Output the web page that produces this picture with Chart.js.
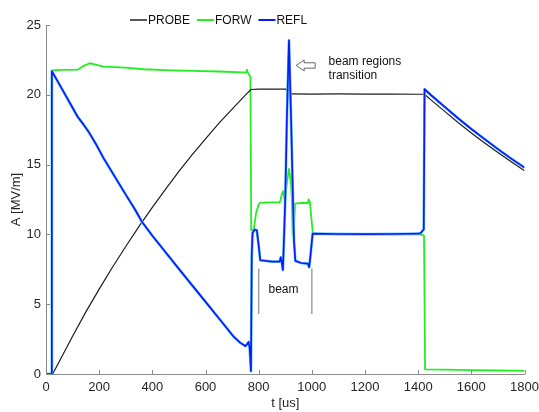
<!DOCTYPE html>
<html>
<head>
<meta charset="utf-8">
<script src="https://cdn.jsdelivr.net/npm/chart.js@4.4.1/dist/chart.umd.min.js"></script>
<style>
  html, body { margin: 0; padding: 0; background: #fff; }
  #wrap { width: 539px; height: 412px; }
</style>
</head>
<body>
<div id="wrap"><canvas id="chart"></canvas></div>
<script>
// PROBE (negro)
const probeT = [0, 25, 50, 100, 150, 200, 250, 300, 350, 400, 450, 500, 550, 600, 650, 700, 750, 771, 800, 850, 902, 910, 918, 925, 1000, 1100, 1200, 1300, 1400, 1424, 1450, 1500, 1550, 1600, 1650, 1700, 1750, 1800];
const probeA = [0, 0, 0.9, 2.7, 4.45, 6.08, 7.65, 9.13, 10.57, 11.93, 13.25, 14.52, 15.72, 16.84, 17.95, 18.98, 19.98, 20.38, 20.4, 20.41, 20.4, 20.25, 20.12, 20.06, 20.05, 20.06, 20.05, 20.05, 20.04, 20.04, 19.6, 18.81, 18.02, 17.27, 16.55, 15.86, 15.2, 14.56];

// FORW (verde)
const forwT = [0, 21, 22, 60, 119, 140, 165, 190, 217, 300, 367, 450, 550, 650, 740, 752, 756, 760, 765, 769, 772, 776, 782, 790, 800, 806, 850, 879, 883, 887, 892, 898, 905, 910, 914, 918, 922, 925, 928, 933, 937, 960, 985, 988, 993, 1000, 1004, 1100, 1200, 1300, 1400, 1418, 1422, 1424, 1426, 1500, 1600, 1700, 1800];
const forwA = [0, 0, 21.75, 21.78, 21.8, 22.05, 22.26, 22.15, 22.02, 21.95, 21.83, 21.77, 21.72, 21.67, 21.6, 21.58, 21.8, 21.55, 21.4, 21.3, 10.3, 10.3, 10.4, 11.5, 12.15, 12.27, 12.3, 12.3, 12.5, 12.9, 13.1, 12.4, 13.5, 14.2, 14.7, 14.2, 13.5, 12.4, 9.9, 10.6, 12.2, 12.25, 12.25, 12.5, 12.3, 10.8, 10.05, 10.0, 10.0, 10.0, 10.0, 9.95, 9.9, 9.9, 0.33, 0.31, 0.28, 0.25, 0.22];

// REFL (azul)
const reflT = [0, 19, 22, 60, 100, 119, 140, 160, 190, 217, 260, 300, 336, 361, 400, 450, 493, 550, 605, 650, 706, 730, 750, 757, 762, 766, 771, 774, 777, 785, 793, 800, 806, 850, 879, 883, 887, 891, 894, 900, 906, 914, 922, 929, 933, 938, 960, 985, 990, 995, 1003, 1100, 1200, 1300, 1400, 1410, 1418, 1421, 1424, 1450, 1500, 1550, 1600, 1650, 1700, 1750, 1800];
const reflA = [0, 0, 21.7, 20.42, 19.07, 18.43, 17.9, 17.36, 16.4, 15.45, 14.1, 12.85, 11.75, 10.9, 9.91, 8.72, 7.69, 6.35, 5.06, 4.0, 2.67, 2.25, 2.0, 2.15, 2.3, 1.9, 0.2, 8.5, 10.1, 10.35, 10.3, 9.2, 8.15, 8.05, 8.05, 8.35, 8.0, 7.45, 9.0, 12.5, 18.2, 23.9, 18.2, 12.5, 9.5, 8.1, 7.95, 7.9, 7.65, 8.5, 10.05, 10.03, 10.02, 10.03, 10.05, 10.1, 10.3, 10.35, 20.4, 19.95, 19.13, 18.32, 17.55, 16.82, 16.11, 15.43, 14.78];

// Ejes
const xTicks = [0, 200, 400, 600, 800, 1000, 1200, 1400, 1600, 1800];
const yTicks = [0, 5, 10, 15, 20, 25];

const toPoints = (t, a) => t.map((v, i) => ({ x: v, y: a[i] }));

const fontFamily = '"Liberation Sans", Arial, sans-serif';
Chart.defaults.font.family = fontFamily;

const axisColor = '#8a8a8a';
const textColor = '#262626';

const extras = {
    id: 'extras',
    afterDraw(chart) {
        const ctx = chart.ctx;
        const x = chart.scales.x;
        const y = chart.scales.y;
        const area = chart.chartArea;
        ctx.save();

        // ticks hacia adentro
        ctx.strokeStyle = axisColor;
        ctx.lineWidth = 1;
        ctx.beginPath();
        xTicks.forEach((v) => {
            const px = Math.round(x.getPixelForValue(v)) + 0.5;
            ctx.moveTo(px, area.bottom);
            ctx.lineTo(px, area.bottom - 4);
        });
        yTicks.forEach((v) => {
            const py = Math.round(y.getPixelForValue(v)) + 0.5;
            ctx.moveTo(area.left, py);
            ctx.lineTo(area.left + 4, py);
        });
        ctx.stroke();

        // marcas de la zona de haz
        ctx.strokeStyle = '#a0a0a0';
        ctx.lineWidth = 1.5;
        ctx.beginPath();
        [800, 1000].forEach((t) => {
            const px = x.getPixelForValue(t);
            ctx.moveTo(px, y.getPixelForValue(7.55));
            ctx.lineTo(px, y.getPixelForValue(4.3));
        });
        ctx.stroke();

        ctx.fillStyle = '#111';
        ctx.font = '12px ' + fontFamily;
        ctx.textBaseline = 'alphabetic';
        ctx.textAlign = 'left';
        ctx.fillText('beam', x.getPixelForValue(837), y.getPixelForValue(5.8));

        // texto y flecha de la transicion
        const tx = x.getPixelForValue(1063);
        const ty = y.getPixelForValue(22.13);
        ctx.fillText('beam regions', tx, ty);
        ctx.fillText('transition', tx, ty + 14.3);

        const ax = x.getPixelForValue(941);
        const ay = y.getPixelForValue(22.1);
        ctx.beginPath();
        ctx.moveTo(ax, ay);
        ctx.lineTo(ax + 8, ay - 5.5);
        ctx.lineTo(ax + 8, ay - 2.7);
        ctx.lineTo(ax + 19, ay - 2.7);
        ctx.lineTo(ax + 19, ay + 2.7);
        ctx.lineTo(ax + 8, ay + 2.7);
        ctx.lineTo(ax + 8, ay + 5.5);
        ctx.closePath();
        ctx.fillStyle = '#fff';
        ctx.fill();
        ctx.strokeStyle = '#444';
        ctx.lineWidth = 0.8;
        ctx.stroke();

        // leyenda
        const items = chart.data.datasets.filter((d) => d.inLegend);
        let lx = 130;
        const ly = 20;
        ctx.font = '12px ' + fontFamily;
        ctx.textBaseline = 'middle';
        items.forEach((d) => {
            ctx.strokeStyle = d.borderColor;
            ctx.lineWidth = d.legendWidth;
            ctx.beginPath();
            ctx.moveTo(lx, ly);
            ctx.lineTo(lx + 17, ly);
            ctx.stroke();
            ctx.fillStyle = '#111';
            ctx.fillText(d.label, lx + 18, ly + 0.5);
            lx += 18 + ctx.measureText(d.label).width + 7;
        });

        ctx.restore();
    }
};

const ctx = document.getElementById('chart').getContext('2d');
const chart = new Chart(ctx, {
    type: 'line',
    data: {
        datasets: [
            {
                label: 'PROBE',
                data: toPoints(probeT, probeA),
                borderColor: '#1e1e1e',
                borderWidth: 1.2,
                legendWidth: 1.5,
                inLegend: true,
                order: 2,
            },
            {
                label: 'FORW',
                data: toPoints(forwT, forwA),
                borderColor: '#22ee22',
                borderWidth: 1.8,
                legendWidth: 2,
                inLegend: true,
                order: 3,
            },
            {
                label: 'REFL',
                data: toPoints(reflT, reflA),
                borderColor: '#0a1aff',
                borderWidth: 1.7,
                legendWidth: 2,
                inLegend: true,
                order: 0,
            },
            {
                label: 'REFL sombra',
                data: toPoints(reflT, reflA),
                borderColor: '#6fcdf2',
                borderWidth: 2.8,
                inLegend: false,
                order: 1,
            },
        ]
    },
    options: {
        responsive: true,
        maintainAspectRatio: false,
        animation: false,
        layout: { padding: { top: 25, right: 0, left: 0, bottom: 0 } },
        elements: {
            point: { radius: 0 },
            line: { tension: 0, borderJoinStyle: 'round' }
        },
        plugins: {
            legend: { display: false },
            tooltip: { enabled: false }
        },
        scales: {
            x: {
                type: 'linear',
                min: 0,
                max: 1800,
                afterBuildTicks: (scale) => { scale.ticks = xTicks.map((v) => ({ value: v })); },
                afterFit: (scale) => { scale.height = 38; scale.paddingRight = 14.5; scale.paddingLeft = 0; },
                grid: { display: true, drawOnChartArea: false, drawTicks: false },
                border: { display: true, color: axisColor, width: 1 },
                ticks: { color: textColor, font: { size: 13 }, padding: 6, maxRotation: 0, callback: (v) => String(v) },
                title: { display: true, text: 't [us]', color: textColor, font: { size: 13 }, padding: { top: 0, bottom: 1 } }
            },
            y: {
                min: 0,
                max: 25,
                afterBuildTicks: (scale) => { scale.ticks = yTicks.map((v) => ({ value: v })); },
                afterFit: (scale) => { scale.width = 46; },
                grid: { display: true, drawOnChartArea: false, drawTicks: false },
                border: { display: true, color: axisColor, width: 1 },
                ticks: { color: textColor, font: { size: 13 }, padding: 5 },
                title: { display: true, text: 'A [MV/m]', color: textColor, font: { size: 13 }, padding: { top: 9, bottom: 0 } }
            }
        }
    },
    plugins: [extras]
});
</script>
</body>
</html>
